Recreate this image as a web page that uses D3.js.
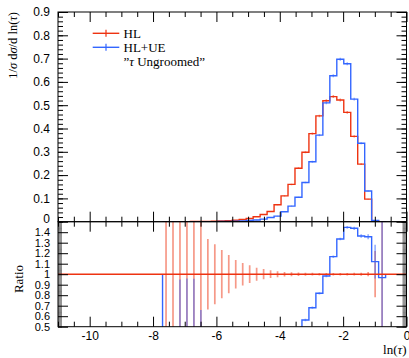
<!DOCTYPE html>
<html>
<head>
<meta charset="utf-8">
<script src="https://cdn.jsdelivr.net/npm/d3@7"></script>
<style>
  body { margin: 0; background: #fff; }
  svg { display: block; font-family: "Liberation Serif", "DejaVu Serif", serif; font-variant-numeric: oldstyle-nums; }
</style>
</head>
<body>
<div id="chart"></div>
<script>
// bin edges in ln(tau), bins 15..46 of a 50-bin histogram on [-11, 0]
const binEdges = [-7.7, -7.48, -7.26, -7.04, -6.82, -6.6, -6.38, -6.16, -5.94, -5.72, -5.5,
  -5.28, -5.06, -4.84, -4.62, -4.4, -4.18, -3.96, -3.74, -3.52, -3.3, -3.08, -2.86,
  -2.64, -2.42, -2.2, -1.98, -1.76, -1.54, -1.32, -1.1, -0.88, -0.66];

// HL (reference)
const hl = [0.0002, 0.0003, 0.0004, 0.0005, 0.0007, 0.0010, 0.0014, 0.0020, 0.0030, 0.0045,
  0.0065, 0.0095, 0.0140, 0.0210, 0.0310, 0.0440, 0.0730, 0.1110, 0.1600, 0.2295,
  0.2980, 0.3780, 0.4540, 0.5190, 0.5370, 0.5220, 0.4690, 0.3660, 0.2470, 0.0970,
  0.0045, 0.0004];
const hlErr = [0.0003, 0.00036, 0.0004, 0.00045, 0.00056, 0.0006, 0.00047, 0.00057, 0.00069, 0.00082,
  0.00088, 0.00102, 0.00118, 0.0013, 0.00152, 0.00163, 0.00204, 0.00244, 0.00304, 0.00367,
  0.00417, 0.00491, 0.00545, 0.00623, 0.00644, 0.00626, 0.00563, 0.00476, 0.00346, 0.00194,
  0.00099, 0.00052];

// HL+UE
const ue = [0, 0, 0.0001, 0.00012, 0.00021, 0.0002, 0.0003, 0.0005, 0.0008, 0.0012,
  0.002, 0.003, 0.005, 0.007, 0.011, 0.018, 0.024, 0.043, 0.067, 0.105,
  0.168, 0.2574, 0.3714, 0.510, 0.6267, 0.6969, 0.678, 0.526, 0.337, 0.1316,
  0.00504, 0.000387];
const ueErr = [0, 0, 0.00028, 0.00036, 0.00046, 0.00046, 0.0002, 0.0002, 0.0003, 0.0004,
  0.0005, 0.0006, 0.0008, 0.0009, 0.0011, 0.0013, 0.0014, 0.0018, 0.0022, 0.0026,
  0.0034, 0.0041, 0.0048, 0.0056, 0.0063, 0.0066, 0.0064, 0.0055, 0.0041, 0.0022,
  0.00072, 0.0006];

const xTicks = [-10, -8, -6, -4, -2, 0];
const yTicks = [0, 0.1, 0.2, 0.3, 0.4, 0.5, 0.6, 0.7, 0.8, 0.9];
const ratioTicks = [0.5, 0.6, 0.7, 0.8, 0.9, 1, 1.1, 1.2, 1.3, 1.4];
const seriesNames = ['HL', 'HL+UE'];

const width = 409
    , height = 358
    , padL = 58
    , padR = 406.5
    , padT = 12
    , midY = 221.7
    , botY = 326.7
    , red = '#ee3311'
    , blue = '#3366ff'
    ;

const x = d3.scaleLinear().domain([-11, 0]).range([padL, padR]);
const y = d3.scaleLinear().domain([0, 0.9]).range([midY, padT]);
const yr = d3.scaleLinear().domain([0.5, 1.5]).range([botY, midY]);

const svg = d3.select('#chart')
  .append('svg')
  .attr('width', width)
  .attr('height', height)
  ;

svg.append('clipPath').attr('id', 'clipMain')
  .append('rect').attr('x', padL).attr('y', padT).attr('width', padR - padL).attr('height', midY - padT);
svg.append('clipPath').attr('id', 'clipRatio')
  .append('rect').attr('x', padL).attr('y', midY).attr('width', padR - padL).attr('height', botY - midY);

const centers = binEdges.slice(0, -1).map((e, i) => (e + binEdges[i + 1]) / 2);

function steps(vals, base) {
  const pts = [[binEdges[0], base]];
  vals.forEach((v, i) => { pts.push([binEdges[i], v], [binEdges[i + 1], v]); });
  pts.push([binEdges[binEdges.length - 1], base]);
  return pts;
}

// main panel
const gMain = svg.append('g').attr('clip-path', 'url(#clipMain)');
[[hl, hlErr, red], [ue, ueErr, blue]].forEach(([vals, errs, col]) => {
  gMain.append('g')
    .selectAll('line')
    .data(vals)
    .join('line')
      .attr('x1', (d, i) => x(centers[i]))
      .attr('x2', (d, i) => x(centers[i]))
      .attr('y1', (d, i) => y(d - errs[i]))
      .attr('y2', (d, i) => y(d + errs[i]))
      .attr('stroke', col)
      .attr('stroke-opacity', 0.5)
      .attr('stroke-width', 1.5)
      ;
  gMain.append('path')
    .attr('d', d3.line().x(d => x(d[0])).y(d => y(d[1]))(steps(vals, 0)))
    .attr('fill', 'none')
    .attr('stroke', col)
    .attr('stroke-width', 1.4)
    ;
});

// ratio panel
const ratio = ue.map((v, i) => hl[i] > 0 ? v / hl[i] : 1);
const gRatio = svg.append('g').attr('clip-path', 'url(#clipRatio)');

gRatio.append('g')
  .selectAll('line')
  .data(hl)
  .join('line')
    .attr('x1', (d, i) => x(centers[i]))
    .attr('x2', (d, i) => x(centers[i]))
    .attr('y1', (d, i) => yr(1 - hlErr[i] / d))
    .attr('y2', (d, i) => yr(1 + hlErr[i] / d))
    .attr('stroke', red)
    .attr('stroke-opacity', 0.5)
    .attr('stroke-width', 1.7)
    ;

gRatio.append('g')
  .selectAll('line')
  .data(ratio)
  .join('line')
    .attr('x1', (d, i) => x(centers[i]))
    .attr('x2', (d, i) => x(centers[i]))
    .attr('y1', (d, i) => yr(d - ueErr[i] / hl[i]))
    .attr('y2', (d, i) => yr(d + ueErr[i] / hl[i]))
    .attr('stroke', blue)
    .attr('stroke-opacity', 0.5)
    .attr('stroke-width', 1.7)
    ;

gRatio.append('path')
  .attr('d', d3.line().x(d => x(d[0])).y(d => yr(d[1]))(steps(ratio, 1)))
  .attr('fill', 'none')
  .attr('stroke', blue)
  .attr('stroke-width', 1.4)
  ;

gRatio.append('line')
  .attr('x1', padL).attr('x2', padR)
  .attr('y1', yr(1)).attr('y2', yr(1))
  .attr('stroke', red)
  .attr('stroke-width', 1.4)
  ;

// axes: inward ticks on every side
const xMinor = d3.range(-11, 0.001, 0.5).filter(v => Math.abs(v % 2) > 0.01);
const yMinor = d3.range(0, 0.901, 0.02);
const rMinor = d3.range(0.5, 1.501, 0.01);

function ticks(axis, at, values, size, fmt, sw, pad) {
  const g = svg.append('g')
    .attr('transform', at)
    .style('font-size', '12px')
    .call(axis.tickValues(values).tickSize(size).tickPadding(pad || 8)
      .tickFormat(fmt || (() => '')))
    ;
  g.select('.domain').remove();
  g.selectAll('line').attr('stroke-width', sw || 1);
  return g;
}

const fmtY = d => d === 0 ? '0' : d3.format('.1f')(d);
const fmtR = d => d === 1 ? '1' : d3.format('.1f')(d);
const fmtX = d => String(d);

// main
const gy = ticks(d3.axisLeft(y), `translate(${padL},0)`, yTicks, -10, fmtY);
gy.selectAll('text').filter(d => d === 0).attr('dy', '0.1em');
ticks(d3.axisLeft(y), `translate(${padL},0)`, yMinor, -5);
ticks(d3.axisRight(y), `translate(${padR},0)`, yTicks, -10);
ticks(d3.axisRight(y), `translate(${padR},0)`, yMinor, -5);
ticks(d3.axisTop(x), `translate(0,${padT})`, xTicks, -10);
ticks(d3.axisTop(x), `translate(0,${padT})`, xMinor, -5);
ticks(d3.axisBottom(x), `translate(0,${midY})`, xTicks, -10);
ticks(d3.axisBottom(x), `translate(0,${midY})`, xMinor, -5);
// ratio
const gr = ticks(d3.axisLeft(yr), `translate(${padL},0)`, ratioTicks, -10, fmtR);
gr.style('font-size', '11px');
ticks(d3.axisLeft(yr), `translate(${padL},0)`, rMinor, -4, null, 0.5);
ticks(d3.axisRight(yr), `translate(${padR},0)`, ratioTicks, -10);
ticks(d3.axisRight(yr), `translate(${padR},0)`, rMinor, -4, null, 0.5);
ticks(d3.axisTop(x), `translate(0,${midY})`, xTicks, -10);
ticks(d3.axisTop(x), `translate(0,${midY})`, xMinor, -5);
ticks(d3.axisBottom(x), `translate(0,${botY})`, xTicks, -10, fmtX, 1, 5);
ticks(d3.axisBottom(x), `translate(0,${botY})`, xMinor, -5);

svg.selectAll('.tick text').attr('fill', '#000');

// frames
[[padT, midY], [midY, botY]].forEach(([t, b]) => {
  svg.append('rect')
    .attr('x', padL).attr('y', t)
    .attr('width', padR - padL).attr('height', b - t)
    .attr('fill', 'none')
    .attr('stroke', '#000')
    .attr('stroke-width', 1)
    ;
});

// titles
const yTitle = svg.append('text')
  .attr('transform', `translate(17,${padT}) rotate(-90)`)
  .attr('text-anchor', 'end')
  .style('font-size', '12.5px')
  ;
yTitle.append('tspan').text('1/');
yTitle.append('tspan').style('font-style', 'italic').text('σ');
yTitle.append('tspan').text(' d');
yTitle.append('tspan').style('font-style', 'italic').text('σ');
yTitle.append('tspan').text('/d ln(');
yTitle.append('tspan').style('font-style', 'italic').text('τ');
yTitle.append('tspan').text(')');

svg.append('text')
  .attr('transform', `translate(22.5,279) rotate(-90)`)
  .attr('text-anchor', 'middle')
  .style('font-size', '13px')
  .text('Ratio')
  ;

const xTitle = svg.append('text')
  .attr('x', padR)
  .attr('y', 354)
  .attr('text-anchor', 'end')
  .style('font-size', '13px')
  ;
xTitle.append('tspan').text('ln(');
xTitle.append('tspan').style('font-style', 'italic').text('τ');
xTitle.append('tspan').text(')');

// legend
const legend = svg.append('g').style('font-size', '13px');
[red, blue].forEach((col, i) => {
  const ly = 33.3 + i * 14;
  legend.append('line')
    .attr('x1', 92.7).attr('x2', 119.3).attr('y1', ly).attr('y2', ly)
    .attr('stroke', col).attr('stroke-width', 1.4);
  legend.append('line')
    .attr('x1', 106).attr('x2', 106).attr('y1', ly - 3.5).attr('y2', ly + 3.5)
    .attr('stroke', col).attr('stroke-width', 1.2);
  legend.append('text')
    .attr('x', 123.5).attr('y', ly + 4.3)
    .text(seriesNames[i]);
});
const note = legend.append('text').attr('x', 123.5).attr('y', 65.8);
note.append('tspan').text('”');
note.append('tspan').style('font-style', 'italic').text('τ');
note.append('tspan').text(' Ungroomed”');
</script>
</body>
</html>
